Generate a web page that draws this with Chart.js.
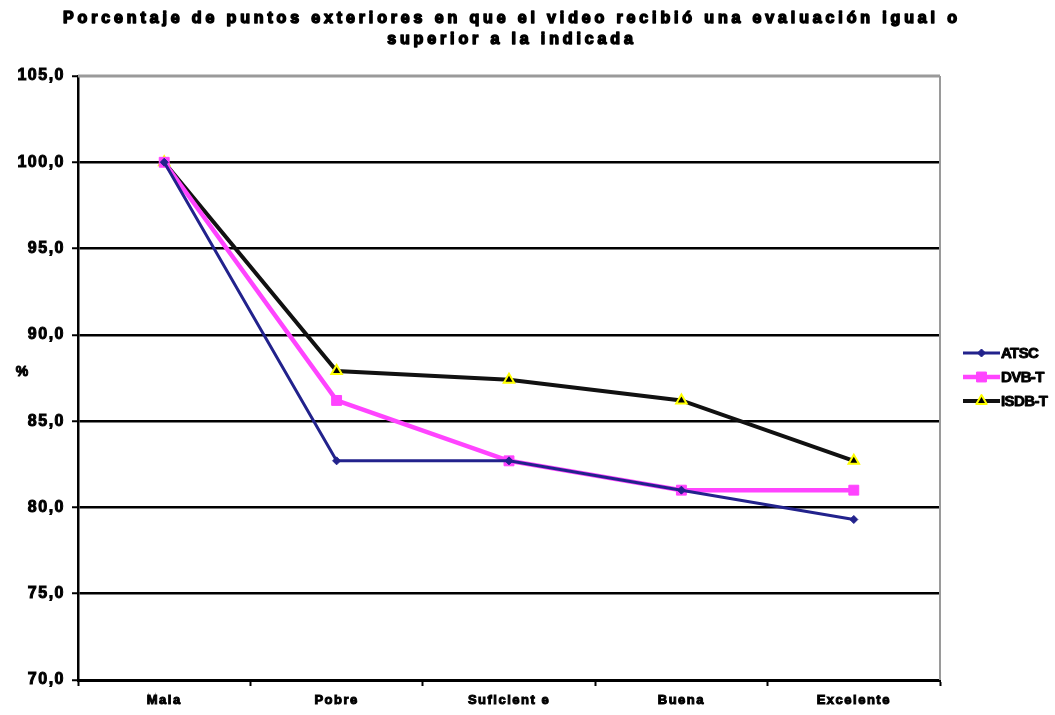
<!DOCTYPE html>
<html>
<head>
<meta charset="utf-8">
<script src="https://cdn.jsdelivr.net/npm/chart.js@4.4.1/dist/chart.umd.min.js"></script>
<style>
  html, body { margin: 0; padding: 0; background: #fff; }
  #wrap { width: 1055px; height: 715px; }
</style>
</head>
<body>
<div id="wrap"><canvas id="c" width="1055" height="715"></canvas></div>
<script>
const titleLines = [
  'Porcentaje de puntos exteriores en que el video recibió una evaluación igual o',
  'superior a la indicada'
];
const categories = ['Mala', 'Pobre', 'Suficient e', 'Buena', 'Excelente'];
const atsc  = [100.0, 82.7, 82.7, 81.0, 79.3];
const dvbt  = [100.0, 86.2, 82.7, 81.0, 81.0];
const isdbt = [100.0, 87.9, 87.4, 86.2, 82.7];
const yTicks = [70, 75, 80, 85, 90, 95, 100, 105];
const yLabel = '%';

const FONT = '"Liberation Sans", Arial, sans-serif';

// Wider letter spacing for the axis labels
const spacing = {
  id: 'spacing',
  beforeDraw(chart) { chart.ctx.letterSpacing = '1.5px'; },
  afterDatasetsDraw(chart) { chart.ctx.letterSpacing = '0px'; }
};

// Heavy text: fill plus a thin stroke of the same colour
function heavyText(ctx, text, x, y, w) {
  ctx.lineWidth = w;
  ctx.strokeStyle = ctx.fillStyle;
  ctx.lineJoin = 'round';
  ctx.strokeText(text, x, y);
  ctx.fillText(text, x, y);
}

// Title, "%" label, frame edges and the line+marker legend
const extras = {
  id: 'extras',
  afterDraw(chart) {
    const ctx = chart.ctx;
    const a = chart.chartArea;
    ctx.save();
    // gray frame on top and right
    ctx.strokeStyle = '#9a9a9a';
    ctx.lineWidth = 3;
    ctx.beginPath();
    ctx.moveTo(a.left, a.top);
    ctx.lineTo(a.right, a.top);
    ctx.stroke();
    ctx.lineWidth = 2;
    ctx.beginPath();
    ctx.moveTo(a.right, a.top);
    ctx.lineTo(a.right, a.bottom);
    ctx.stroke();

    // title, spread across the plot width
    ctx.fillStyle = '#000';
    ctx.textAlign = 'center';
    ctx.textBaseline = 'middle';
    ctx.font = 'bold 16px ' + FONT;
    ctx.letterSpacing = '0px';
    const w0 = ctx.measureText(titleLines[0]).width;
    const ls = (898 - w0) / titleLines[0].length;
    ctx.letterSpacing = ls.toFixed(2) + 'px';
    heavyText(ctx, titleLines[0], 510 + ls / 2, 19, 1.5);
    heavyText(ctx, titleLines[1], 510 + ls / 2, 40, 1.5);

    // y label
    ctx.letterSpacing = '0px';
    ctx.font = 'bold 14px ' + FONT;
    heavyText(ctx, yLabel, 22, 372, 1);

    // legend
    ctx.textAlign = 'left';
    ctx.font = 'bold 15px ' + FONT;
    ctx.letterSpacing = '-0.6px';
    const x0 = 963, x1 = 1000, y0 = 353, dy = 24;
    chart.data.datasets.forEach((ds, i) => {
      const y = y0 + i * dy;
      ctx.strokeStyle = ds.borderColor;
      ctx.lineWidth = ds.borderWidth;
      ctx.lineCap = 'butt';
      ctx.beginPath();
      ctx.moveTo(x0, y);
      ctx.lineTo(x1, y);
      ctx.stroke();
      const o = chart.getDatasetMeta(i).data[0].options;
      ctx.fillStyle = o.backgroundColor;
      ctx.strokeStyle = o.borderColor;
      ctx.lineWidth = o.borderWidth;
      Chart.helpers.drawPoint(ctx, {
        pointStyle: o.pointStyle, rotation: o.rotation, radius: o.radius,
        borderWidth: o.borderWidth
      }, (x0 + x1) / 2, y);
      ctx.fillStyle = '#000';
      heavyText(ctx, ds.label, x1 + 1, y + 1, 0.9);
    });
    ctx.restore();
  }
};

new Chart(document.getElementById('c'), {
  type: 'line',
  data: {
    labels: categories,
    datasets: [
      {
        label: 'ATSC', data: atsc,
        borderColor: '#22228c', borderWidth: 3,
        pointStyle: 'rectRot', pointRadius: 4,
        pointBackgroundColor: '#22228c', pointBorderColor: '#22228c', pointBorderWidth: 1
      },
      {
        label: 'DVB-T', data: dvbt,
        borderColor: '#ff44ff', borderWidth: 4.5,
        pointStyle: 'rect', pointRadius: 7,
        pointBackgroundColor: '#ff44ff', pointBorderColor: '#ff44ff', pointBorderWidth: 1
      },
      {
        label: 'ISDB-T', data: isdbt,
        borderColor: '#111111', borderWidth: 4,
        pointStyle: 'triangle', pointRadius: 6,
        pointBackgroundColor: '#000000', pointBorderColor: '#ffff00', pointBorderWidth: 2
      }
    ]
  },
  options: {
    responsive: false,
    animation: false,
    layout: { padding: { top: 76, right: 115, left: 0, bottom: 0 } },
    plugins: {
      legend: { display: false },
      title: { display: false },
      tooltip: { enabled: false }
    },
    elements: { line: { tension: 0 } },
    scales: {
      x: {
        offset: true,
        afterFit(s) { s.height = 35; },
        grid: {
          offset: true, drawOnChartArea: false, drawTicks: true,
          tickLength: 6, tickColor: '#000', tickWidth: 2
        },
        border: { color: '#000', width: 3 },
        ticks: {
          color: '#000', padding: 7,
          textStrokeColor: '#000', textStrokeWidth: 1,
          font: { family: FONT, size: 13, weight: 'bold' }
        }
      },
      y: {
        min: 70, max: 105,
        afterFit(s) { s.width = 78; },
        afterBuildTicks(s) { s.ticks = yTicks.map(v => ({ value: v })); },
        grid: {
          color: c => (c.tick && c.tick.value === 105) ? 'rgba(0,0,0,0)' : '#000',
          lineWidth: 2.5,
          tickLength: 6, tickColor: '#000', tickWidth: 2
        },
        border: { color: '#000', width: 2.5 },
        ticks: {
          color: '#000', padding: 7,
          textStrokeColor: '#000', textStrokeWidth: 1,
          font: { family: FONT, size: 16, weight: 'bold' },
          callback: v => v.toFixed(1).replace('.', ',')
        }
      }
    }
  },
  plugins: [spacing, extras]
});
</script>
</body>
</html>
